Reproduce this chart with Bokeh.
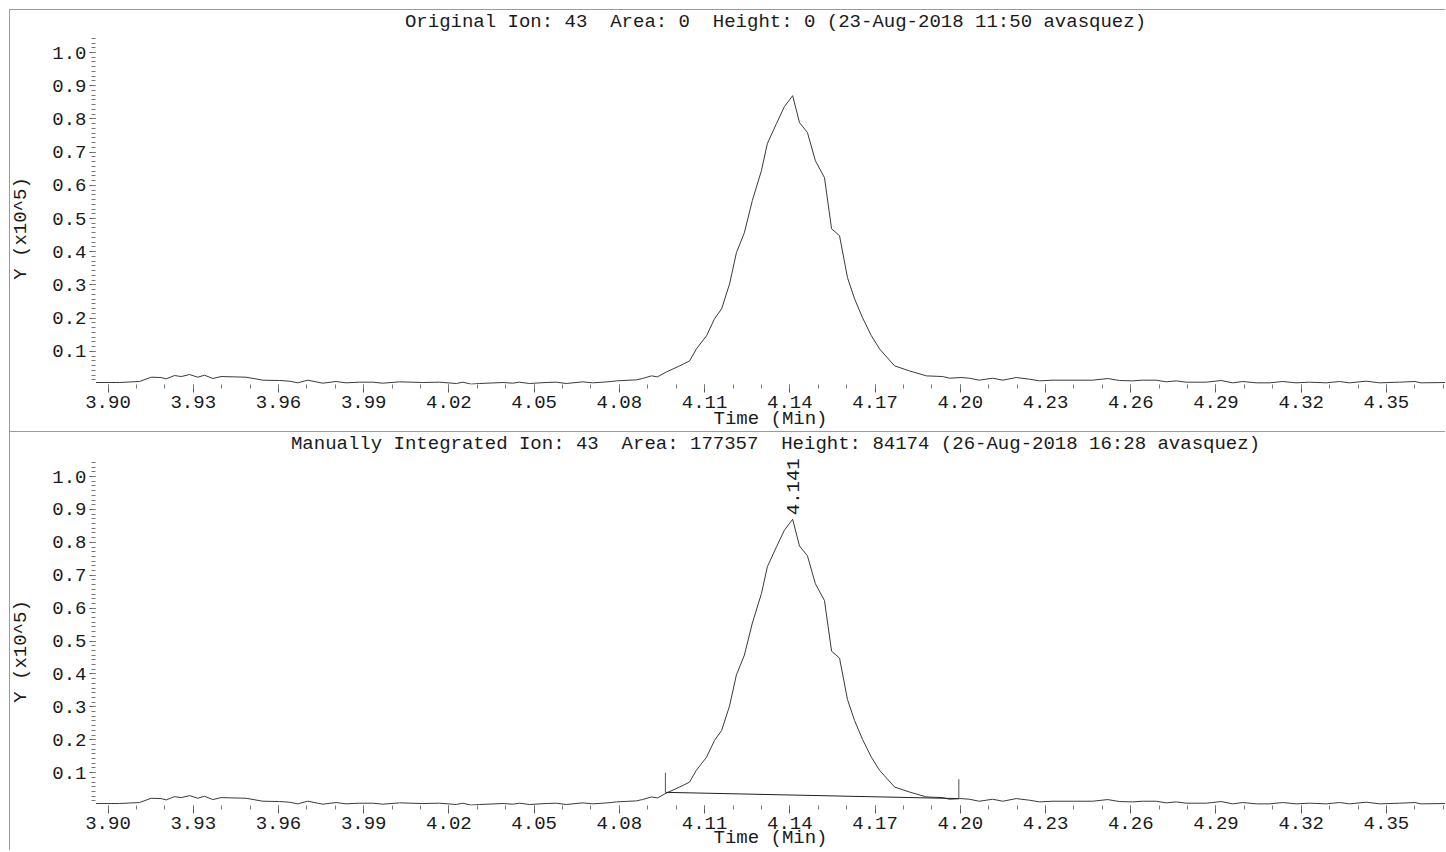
import math
from bokeh.plotting import figure
from bokeh.models import Range1d, FixedTicker, Label, NumeralTickFormatter
from bokeh.layouts import column, row
from bokeh.embed import file_html
from bokeh.resources import INLINE

# ---- data (time in minutes, intensity in units of 10^5 counts) ----
time_min = [
    3.8958, 3.9011, 3.9040, 3.9111, 3.9152, 3.9187, 3.9205, 3.9234, 3.9258, 3.9287,
    3.9316, 3.9340, 3.9369, 3.9398, 3.9486, 3.9545, 3.9604, 3.9639, 3.9668, 3.9703,
    3.9756, 3.9803, 3.9838, 3.9885, 3.9932, 3.9967, 4.0026, 4.0108, 4.0167, 4.0226,
    4.0249, 4.0278, 4.0308, 4.0390, 4.0425, 4.0448, 4.0484, 4.0542, 4.0578, 4.0613,
    4.0671, 4.0706, 4.0742, 4.0771, 4.0790, 4.0860, 4.0881, 4.0913, 4.0934, 4.0966,
    4.1012, 4.1047, 4.1071, 4.1107, 4.1135, 4.1160, 4.1188, 4.1212, 4.1240, 4.1268,
    4.1300, 4.1321, 4.1353, 4.1381, 4.1410, 4.1434, 4.1462, 4.1490, 4.1522, 4.1547,
    4.1575, 4.1603, 4.1628, 4.1656, 4.1687, 4.1716, 4.1744, 4.1769, 4.1821, 4.1881,
    4.1938, 4.1962, 4.2003, 4.2032, 4.2067, 4.2114, 4.2150, 4.2197, 4.2244, 4.2279,
    4.2326, 4.2466, 4.2519, 4.2560, 4.2607, 4.2642, 4.2690, 4.2725, 4.2760, 4.2795,
    4.2866, 4.2918, 4.2959, 4.2994, 4.3042, 4.3088, 4.3135, 4.3182, 4.3229, 4.3288,
    4.3335, 4.3370, 4.3429, 4.3476, 4.3546, 4.3600, 4.3622, 4.3708,
]
intensity = [
    0.006, 0.006, 0.006, 0.009, 0.022, 0.021, 0.017, 0.027, 0.024, 0.030,
    0.022, 0.028, 0.018, 0.024, 0.022, 0.013, 0.012, 0.010, 0.005, 0.013,
    0.004, 0.009, 0.005, 0.007, 0.007, 0.004, 0.008, 0.006, 0.007, 0.003,
    0.007, 0.001, 0.003, 0.006, 0.004, 0.007, 0.003, 0.006, 0.007, 0.003,
    0.008, 0.005, 0.007, 0.009, 0.011, 0.014, 0.018, 0.026, 0.023, 0.038,
    0.056, 0.071, 0.107, 0.147, 0.198, 0.228, 0.303, 0.397, 0.457, 0.554,
    0.644, 0.726, 0.786, 0.837, 0.870, 0.789, 0.759, 0.674, 0.623, 0.469,
    0.448, 0.322, 0.258, 0.201, 0.147, 0.107, 0.080, 0.056, 0.041, 0.026,
    0.024, 0.019, 0.021, 0.019, 0.013, 0.019, 0.013, 0.021, 0.016, 0.011,
    0.013, 0.013, 0.018, 0.012, 0.011, 0.013, 0.013, 0.008, 0.011, 0.007,
    0.007, 0.012, 0.005, 0.009, 0.005, 0.005, 0.009, 0.005, 0.007, 0.005,
    0.009, 0.005, 0.010, 0.005, 0.007, 0.009, 0.005, 0.006,
]

x_tick_values = [3.90, 3.93, 3.96, 3.99, 4.02, 4.05, 4.08, 4.11, 4.14, 4.17,
                 4.20, 4.23, 4.26, 4.29, 4.32, 4.35]
y_tick_values = [0.1, 0.2, 0.3, 0.4, 0.5, 0.6, 0.7, 0.8, 0.9, 1.0]

NB2 = "\u00a0\u00a0"  # double space kept visible in SVG text
titles = [
    f"Original Ion: 43{NB2}Area: 0{NB2}Height: 0 (23-Aug-2018 11:50 avasquez)",
    f"Manually Integrated Ion: 43{NB2}Area: 177357{NB2}Height: 84174 (26-Aug-2018 16:28 avasquez)",
]
x_title = "Time (Min)"
y_title = "Y (x10^5)"

peak_time = 4.141
peak_height = 0.870
peak_label = "4.141"

baseline_time = [4.0962, 4.1995]
baseline_level = [0.040, 0.021]
marker_top = [0.100, 0.080]

# ---- styling ----
FONT = "Liberation Mono"
FSIZE = "19px"
TXT = "#1a1a1a"
LINE = "#3a3a3a"
BORDER = "#9a9a9a"

X_START, X_END = 3.8956, 4.3708
LABEL_W = 30

x_minor = [round(3.90 + 0.01 * i, 2) for i in range(0, 48)]
y_minor = [k * 0.1 / 7 for k in range(1, 74)]


def make_ylabel(height, y_from_bottom):
    q = figure(width=LABEL_W, height=height, output_backend="svg",
               toolbar_location=None, title=None,
               x_axis_type=None, y_axis_type=None,
               x_range=Range1d(0, LABEL_W), y_range=Range1d(0, height),
               min_border=0,
               styles={"border-top": f"1px solid {BORDER}",
                       "border-left": f"1px solid {BORDER}"})
    q.outline_line_color = None
    q.grid.visible = False
    q.add_layout(Label(x=LABEL_W / 3, y=y_from_bottom, text=y_title, angle=math.pi / 2,
                       text_font=FONT, text_font_size=FSIZE, text_color=TXT,
                       text_align="center", text_baseline="middle"))
    return q


def make_panel(height, bottom, y_end, title_text, title_dy, lab_standoff, xlab_standoff,
               peak=False):
    p = figure(width=1436 - LABEL_W, height=height, output_backend="svg",
               toolbar_location=None, title=None,
               x_range=Range1d(X_START, X_END), y_range=Range1d(0.0, y_end),
               min_border_left=86 - LABEL_W, min_border_right=0,
               min_border_top=0, min_border_bottom=bottom,
               styles={"border-top": f"1px solid {BORDER}"})
    p.outline_line_color = None
    p.grid.visible = False
    p.background_fill_color = "white"
    p.border_fill_color = "white"

    xa = p.xaxis[0]
    xa.ticker = FixedTicker(ticks=x_tick_values, minor_ticks=x_minor)
    xa.formatter = NumeralTickFormatter(format="0.00")
    xa.axis_line_color = None
    xa.major_tick_in = 0
    xa.major_tick_out = 8
    xa.minor_tick_in = 0
    xa.minor_tick_out = 4
    xa.major_tick_line_color = "#555555"
    xa.minor_tick_line_color = "#777777"
    xa.major_label_standoff = lab_standoff
    xa.major_label_text_font = FONT
    xa.major_label_text_font_size = FSIZE
    xa.major_label_text_color = TXT
    xa.axis_label = x_title
    xa.axis_label_standoff = xlab_standoff
    xa.axis_label_text_font = FONT
    xa.axis_label_text_font_size = FSIZE
    xa.axis_label_text_font_style = "normal"
    xa.axis_label_text_color = TXT

    ya = p.yaxis[0]
    ya.ticker = FixedTicker(ticks=y_tick_values, minor_ticks=y_minor)
    ya.formatter = NumeralTickFormatter(format="0.0")
    ya.axis_line_color = None
    ya.major_tick_in = 0
    ya.major_tick_out = 6
    ya.minor_tick_in = 0
    ya.minor_tick_out = 4
    ya.major_tick_line_color = "#555555"
    ya.minor_tick_line_color = "#777777"
    ya.major_label_standoff = 3
    ya.major_label_text_font = FONT
    ya.major_label_text_font_size = FSIZE
    ya.major_label_text_color = TXT

    p.line(time_min, intensity, line_color=LINE, line_width=1)

    xmid = (X_START + X_END) / 2
    p.add_layout(Label(x=xmid, y=y_end, x_offset=5, y_offset=title_dy, text=title_text,
                       text_font=FONT, text_font_size=FSIZE, text_color=TXT,
                       text_align="center", text_baseline="middle"))

    if peak:
        p.segment(x0=baseline_time[:1], y0=baseline_level[:1],
                  x1=baseline_time[1:], y1=baseline_level[1:],
                  line_color="#222222", line_width=1)
        p.segment(x0=baseline_time, y0=baseline_level, x1=baseline_time, y1=marker_top,
                  line_color="#555555", line_width=1)
        p.add_layout(Label(x=peak_time, y=peak_height, y_offset=4, text=peak_label,
                           angle=math.pi / 2,
                           text_font=FONT, text_font_size=FSIZE, text_color=TXT,
                           text_align="left", text_baseline="middle"))
    return p


# top panel: canvas 422 px, frame 374 px tall at 332 px per unit
p1 = make_panel(422, 48, 374 / 332, titles[0], -11, 3, -3)
l1 = make_ylabel(422, 176)
# bottom panel: canvas 419 px, frame 373 px tall at 329 px per unit
p2 = make_panel(419, 46, 373 / 329, titles[1], -11, 3, -5, peak=True)
l2 = make_ylabel(419, 173)

layout = column(row(l1, p1, spacing=0), row(l2, p2, spacing=0),
                spacing=0, margin=(9, 0, 0, 9))
open("out.html", "w").write(file_html(layout, INLINE))
